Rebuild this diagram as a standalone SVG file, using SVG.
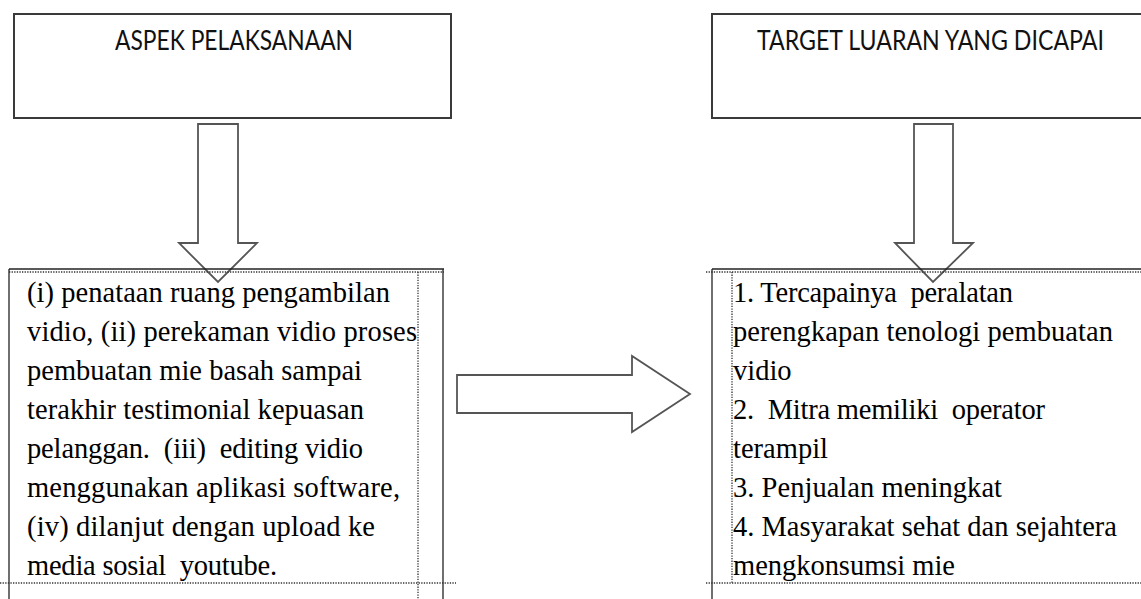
<svg xmlns="http://www.w3.org/2000/svg" width="1141" height="599" viewBox="0 0 1141 599">
<style>
.hbox{fill:#fff;stroke:#3a3a3a;stroke-width:2}
.title{font-family:Lato,"Liberation Sans",sans-serif;font-size:26px;fill:#111}
.arrow{fill:none;stroke:#555;stroke-width:1.8;stroke-linejoin:miter}
.solid{stroke:#222;stroke-width:1.3;fill:none}
.dot{stroke:#333;stroke-width:1.3;stroke-dasharray:1.3 1.3;fill:none}
.body{font-family:"Liberation Serif","Times New Roman",serif;font-size:28.5px;fill:#000}
</style>
<rect width="1141" height="599" fill="#fff"/>

<g id="aspek">
<rect class="hbox" x="14" y="14" width="437" height="104"/>
<text class="title" x="115" y="50" textLength="238" lengthAdjust="spacingAndGlyphs">ASPEK PELAKSANAAN</text>
</g>

<g id="target">
<path class="hbox" d="M1141 14 H712 V118 H1141"/>
<text class="title" x="757" y="50" textLength="347" lengthAdjust="spacingAndGlyphs">TARGET LUARAN YANG DICAPAI</text>
</g>

<g id="connectors">
<path class="arrow" d="M198 124 H238 V243 H257 L218 282 L179 243 H198 Z"/>
<path class="arrow" d="M914 124 H953 V243 H973 L933 282 L895 243 H914 Z"/>
<path class="arrow" d="M457 375 H632 V356 L690 394 L632 432 V413 H457 Z"/>
</g>

<g id="pelaksanaan">
<line class="solid" x1="9" y1="269" x2="444" y2="269"/>
<line class="dot" x1="9" y1="272" x2="444" y2="272"/>
<line class="solid" x1="9" y1="269" x2="9" y2="599"/>
<line class="solid" x1="443" y1="269" x2="443" y2="599"/>
<line class="dot" x1="418" y1="272" x2="418" y2="599"/>
<line class="dot" x1="0" y1="583" x2="456" y2="583"/>
<text class="body" x="27" y="302" textLength="363" lengthAdjust="spacing">(i) penataan ruang pengambilan</text>
<text class="body" x="27" y="341" textLength="390" lengthAdjust="spacing">vidio, (ii) perekaman vidio proses</text>
<text class="body" x="27" y="380" textLength="335" lengthAdjust="spacing">pembuatan mie basah sampai</text>
<text class="body" x="27" y="419" textLength="337" lengthAdjust="spacing">terakhir testimonial kepuasan</text>
<text class="body" x="27" y="458" textLength="336" lengthAdjust="spacing" xml:space="preserve">pelanggan.  (iii)  editing vidio</text>
<text class="body" x="27" y="497" textLength="373" lengthAdjust="spacing">menggunakan aplikasi software,</text>
<text class="body" x="27" y="536" textLength="348" lengthAdjust="spacing">(iv) dilanjut dengan upload ke</text>
<text class="body" x="27" y="575" textLength="250" lengthAdjust="spacing" xml:space="preserve">media sosial  youtube.</text>
</g>

<g id="luaran">
<line class="solid" x1="712" y1="269" x2="1141" y2="269"/>
<line class="dot" x1="706" y1="272" x2="1141" y2="272"/>
<line class="solid" x1="712" y1="269" x2="712" y2="599"/>
<line class="dot" x1="732" y1="272" x2="732" y2="583"/>
<line class="dot" x1="706" y1="583" x2="1141" y2="583"/>
<text class="body" x="733" y="302" textLength="280" lengthAdjust="spacing" xml:space="preserve">1. Tercapainya  peralatan</text>
<text class="body" x="733" y="341" textLength="380" lengthAdjust="spacing">perengkapan tenologi pembuatan</text>
<text class="body" x="733" y="380">vidio</text>
<text class="body" x="733" y="419" textLength="312" lengthAdjust="spacing" xml:space="preserve">2.  Mitra memiliki  operator</text>
<text class="body" x="733" y="458">terampil</text>
<text class="body" x="733" y="497" textLength="269" lengthAdjust="spacing">3. Penjualan meningkat</text>
<text class="body" x="733" y="536" textLength="384" lengthAdjust="spacing">4. Masyarakat sehat dan sejahtera</text>
<text class="body" x="733" y="575" textLength="222" lengthAdjust="spacing">mengkonsumsi mie</text>
</g>
</svg>
